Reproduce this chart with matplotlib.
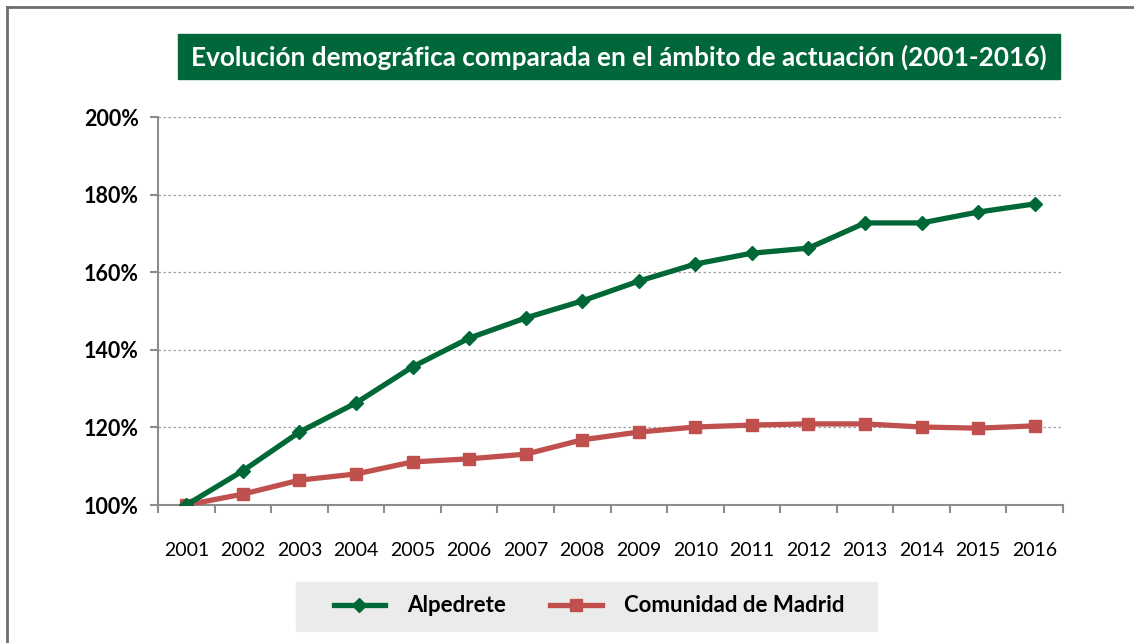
import matplotlib.pyplot as plt
from matplotlib.lines import Line2D
from matplotlib.patches import Rectangle
from matplotlib.ticker import FuncFormatter

years = ['2001', '2002', '2003', '2004', '2005', '2006', '2007', '2008',
         '2009', '2010', '2011', '2012', '2013', '2014', '2015', '2016']
alpedrete = [100.0, 108.8, 118.8, 126.3, 135.6, 143.0, 148.2, 152.6,
             157.7, 162.1, 164.9, 166.2, 172.7, 172.7, 175.5, 177.6]
madrid = [100.0, 102.8, 106.4, 108.0, 111.1, 111.9, 113.1, 116.8,
          118.8, 120.1, 120.6, 120.9, 120.9, 120.1, 119.8, 120.4]
yticks = [100, 120, 140, 160, 180, 200]

plt.rcParams['font.family'] = ['Lato', 'DejaVu Sans']

green = '#006837'
red = '#C0504D'
axis_gray = '#8C8C8C'

fig = plt.figure(figsize=(11.34, 6.43), dpi=100)
W, H = 1134, 643
ax = fig.add_axes([158 / W, (H - 505) / H, (1063 - 158) / W, (505 - 117) / H])

x = list(range(len(years)))
ax.plot(x, madrid, color=red, lw=3.8, marker='s', ms=9, label='Comunidad de Madrid', zorder=3)
ax.plot(x, alpedrete, color=green, lw=3.8, marker='D', ms=7, label='Alpedrete', zorder=4)

ax.set_xlim(-0.5, len(years) - 0.5)
ax.set_ylim(100, 200)
ax.set_xticks(x)
ax.set_xticklabels(years, fontsize=14)
ax.set_xticks([i - 0.5 for i in range(len(years) + 1)], minor=True)
ax.tick_params(axis='x', which='major', length=0, pad=27)
ax.tick_params(axis='x', which='minor', length=6, width=1.5, color=axis_gray)
ax.set_yticks(yticks)
ax.yaxis.set_major_formatter(FuncFormatter(lambda v, p: f'{v:.0f}%'))
ax.tick_params(axis='y', length=6, width=1.5, color=axis_gray, pad=8)
for lab in ax.get_yticklabels():
    lab.set_fontweight('bold')
    lab.set_fontsize(15.5)

ax.grid(axis='y', linestyle=(0, (2, 2)), color='#A0A0A0', lw=0.9)
ax.set_axisbelow(True)
for s in ['top', 'right']:
    ax.spines[s].set_visible(False)
for s in ['left', 'bottom']:
    ax.spines[s].set_color(axis_gray)
    ax.spines[s].set_linewidth(1.5)
ax.set_clip_on(False)

# title box
fig.patches.append(Rectangle((178 / W, (H - 79) / H), (1060 - 178) / W, 45 / H,
                             transform=fig.transFigure, color='#00673A', zorder=0))
fig.text(619 / W, (H - 57) / H, 'Evolución demográfica comparada en el ámbito de actuación (2001-2016)',
         color='white', fontsize=18.8, fontweight='bold', ha='center', va='center')

# legend box
fig.patches.append(Rectangle((296 / W, (H - 631) / H), (877 - 296) / W, 49 / H,
                             transform=fig.transFigure, color='#EBEBEB', zorder=0))
handles, labels = ax.get_legend_handles_labels()
leg = fig.legend(handles[::-1], labels[::-1], loc='center', bbox_to_anchor=(589 / W, (H - 606) / H),
                 ncol=2, frameon=False, prop={'weight': 'bold', 'size': 16},
                 handlelength=2.3, columnspacing=2.0, handletextpad=1.0)

# outer frame
fig.add_artist(Line2D([7 / W, 1], [(H - 7) / H, (H - 7) / H], color='#6E6E6E', lw=2))
fig.add_artist(Line2D([7 / W, 7 / W], [0, (H - 7) / H], color='#6E6E6E', lw=2))

fig.savefig('out.png', dpi=100)
